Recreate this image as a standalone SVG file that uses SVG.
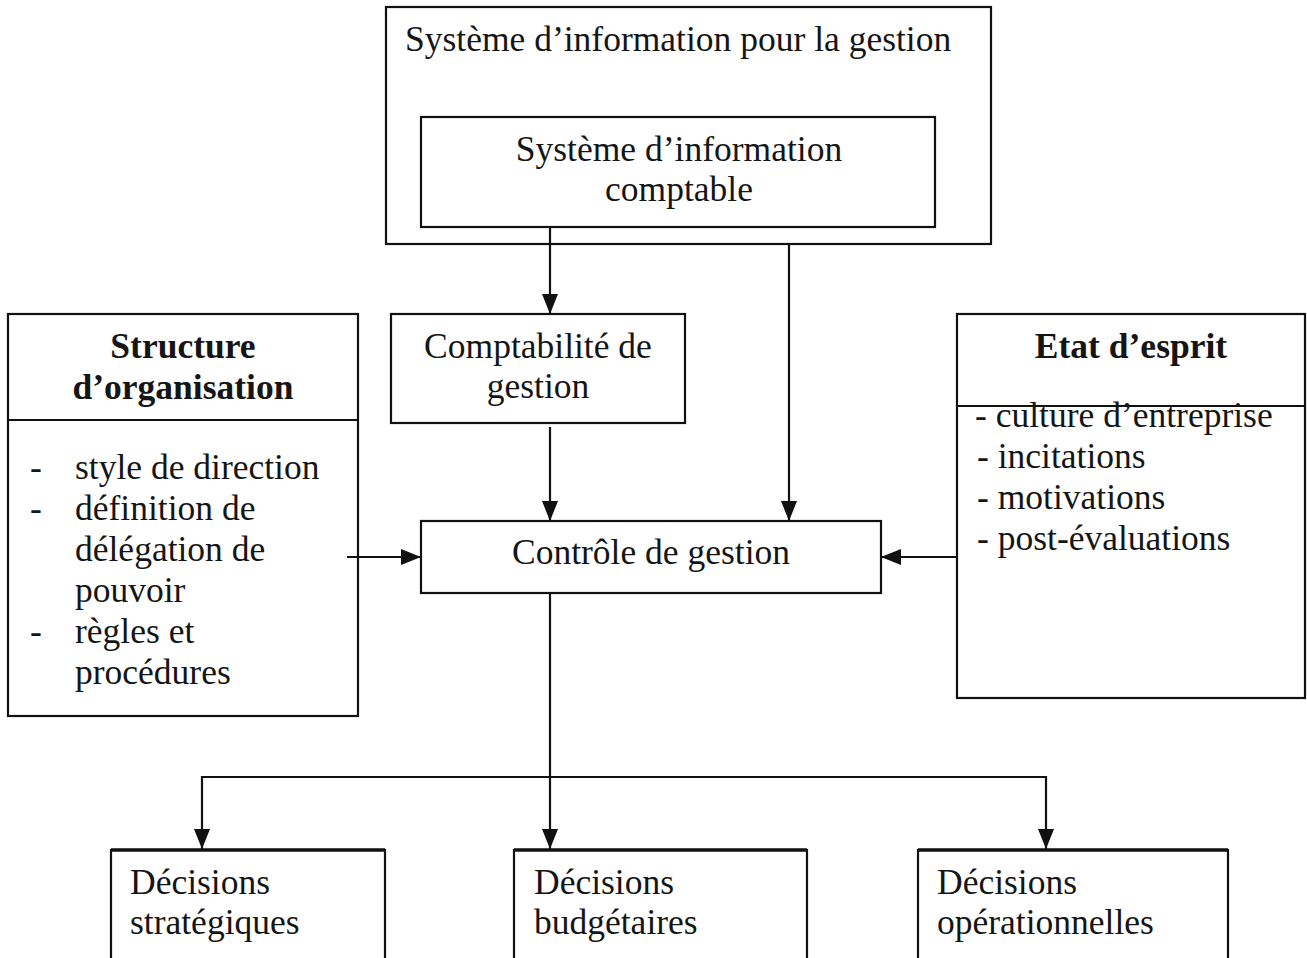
<svg xmlns="http://www.w3.org/2000/svg" width="1307" height="958" viewBox="0 0 1307 958">
  <style>
    .box { fill: none; stroke: #111; stroke-width: 2.2; }
    .thick { stroke: #111; stroke-width: 3.4; }
    .t { font-family: "Liberation Serif", "Times New Roman", serif; font-size: 35.5px; fill: #151515; }
    .b { font-weight: bold; }
    .c { text-anchor: middle; }
    .wire { fill: none; stroke: #111; stroke-width: 2.2; }
  </style>
  <defs>
    <marker id="arrow" markerUnits="userSpaceOnUse" markerWidth="20" markerHeight="16" refX="20" refY="8" orient="auto">
      <path d="M0,0 L20,8 L0,16 Z" fill="#111"/>
    </marker>
  </defs>
  <rect width="1307" height="958" fill="#fff"/>

  <g id="si-gestion">
    <rect class="box" x="386" y="7" width="605" height="237"/>
    <text class="t" x="405" y="51">Système d’information pour la gestion</text>
  </g>

  <g id="si-comptable">
    <rect class="box" x="421" y="117" width="514" height="110"/>
    <text class="t c" x="679" y="161">Système d’information</text>
    <text class="t c" x="679" y="201">comptable</text>
  </g>

  <g id="compta-gestion">
    <rect class="box" x="391" y="314" width="294" height="109"/>
    <text class="t c" x="538" y="358">Comptabilité de</text>
    <text class="t c" x="538" y="398">gestion</text>
  </g>

  <g id="structure">
    <rect class="box" x="8" y="314" width="350" height="402"/>
    <line class="box" x1="8" y1="420" x2="358" y2="420"/>
    <text class="t b c" x="183" y="358">Structure</text>
    <text class="t b c" x="183" y="399">d’organisation</text>
    <text class="t" x="30" y="479">-</text>
    <text class="t" x="75" y="479">style de direction</text>
    <text class="t" x="30" y="520">-</text>
    <text class="t" x="75" y="520">définition de</text>
    <text class="t" x="75" y="561">délégation de</text>
    <text class="t" x="75" y="602">pouvoir</text>
    <text class="t" x="30" y="643">-</text>
    <text class="t" x="75" y="643">règles et</text>
    <text class="t" x="75" y="684">procédures</text>
  </g>

  <g id="etat-esprit">
    <rect class="box" x="957" y="314" width="348" height="384"/>
    <line class="box" x1="957" y1="406" x2="1305" y2="406"/>
    <text class="t b c" x="1131" y="358">Etat d’esprit</text>
    <text class="t" x="975" y="427">- culture d’entreprise</text>
    <text class="t" x="977" y="468">- incitations</text>
    <text class="t" x="977" y="509">- motivations</text>
    <text class="t" x="977" y="550">- post-évaluations</text>
  </g>

  <g id="controle">
    <rect class="box" x="421" y="521" width="460" height="72"/>
    <text class="t c" x="651" y="564">Contrôle de gestion</text>
  </g>

  <g id="dec-strategiques">
    <path class="box" d="M111,960 V850 H385 V960"/>
    <line class="thick" x1="111" y1="850" x2="385" y2="850"/>
    <text class="t" x="130" y="894">Décisions</text>
    <text class="t" x="130" y="934">stratégiques</text>
  </g>

  <g id="dec-budgetaires">
    <path class="box" d="M514,960 V850 H807 V960"/>
    <line class="thick" x1="514" y1="850" x2="807" y2="850"/>
    <text class="t" x="534" y="894">Décisions</text>
    <text class="t" x="534" y="934">budgétaires</text>
  </g>

  <g id="dec-operationnelles">
    <path class="box" d="M918,960 V850 H1228 V960"/>
    <line class="thick" x1="918" y1="850" x2="1228" y2="850"/>
    <text class="t" x="937" y="894">Décisions</text>
    <text class="t" x="937" y="934">opérationnelles</text>
  </g>

  <g id="connectors">
    <line class="wire" x1="550" y1="227" x2="550" y2="314" marker-end="url(#arrow)"/>
    <line class="wire" x1="789" y1="244" x2="789" y2="521" marker-end="url(#arrow)"/>
    <line class="wire" x1="550" y1="427" x2="550" y2="521" marker-end="url(#arrow)"/>
    <line class="wire" x1="347" y1="557" x2="421" y2="557" marker-end="url(#arrow)"/>
    <line class="wire" x1="957" y1="557" x2="881" y2="557" marker-end="url(#arrow)"/>
    <line class="wire" x1="550" y1="593" x2="550" y2="849" marker-end="url(#arrow)"/>
    <line class="wire" x1="202" y1="777" x2="1046" y2="777"/>
    <line class="wire" x1="202" y1="776" x2="202" y2="849" marker-end="url(#arrow)"/>
    <line class="wire" x1="1046" y1="776" x2="1046" y2="849" marker-end="url(#arrow)"/>
  </g>
</svg>
